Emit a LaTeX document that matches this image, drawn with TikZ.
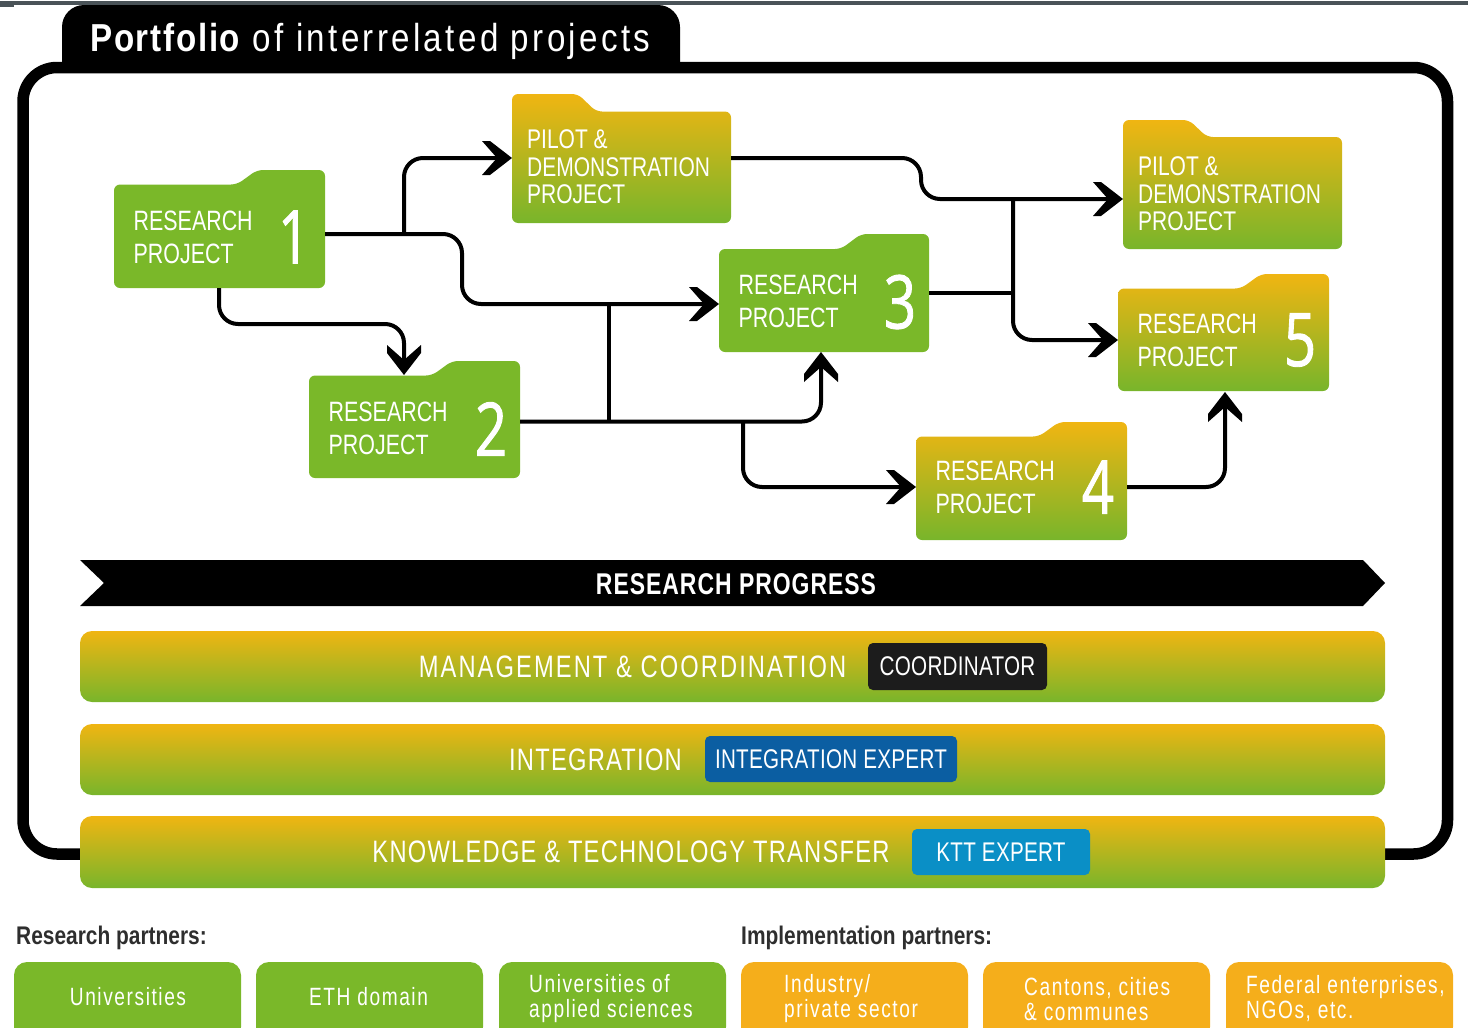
\documentclass[tikz,border=0pt]{standalone}
\usepackage{fontspec}
\setmainfont{Liberation Sans}
\usetikzlibrary{arrows.meta}
\newfontfamily\cfont[FakeStretch=0.765]{Liberation Sans}
\newfontfamily\cpilot[FakeStretch=0.778]{Liberation Sans}
\newfontfamily\cnum[FakeStretch=0.76,FakeBold=1.2]{Open Sans}
\newfontfamily\cchip[FakeStretch=0.765,LetterSpace=1]{Liberation Sans}
\newfontfamily\chead[FakeStretch=0.82]{Liberation Sans}
\newfontfamily\cprog[FakeStretch=0.765,LetterSpace=3.3]{Liberation Sans}
\newfontfamily\cbara[FakeStretch=0.765,LetterSpace=6.7]{Liberation Sans}
\newfontfamily\cbarb[FakeStretch=0.765,LetterSpace=4]{Liberation Sans}
\newfontfamily\csmall[FakeStretch=0.765,LetterSpace=6.3]{Liberation Sans}
\newfontfamily\ctreg[FakeStretch=0.85,LetterSpace=8.5]{Liberation Sans}
\newfontfamily\ctbold[FakeStretch=0.85,LetterSpace=4.4]{Liberation Sans}
\definecolor{gy}{HTML}{F0B512}
\definecolor{gg}{HTML}{78B52B}
\definecolor{pgreen}{HTML}{7AB829}
\definecolor{porange}{HTML}{F5AE1B}
\definecolor{chipk}{HTML}{1C1C1C}
\definecolor{chipb}{HTML}{0B5EA2}
\definecolor{chipc}{HTML}{0A8FC6}
\definecolor{rulec}{HTML}{4A5358}
\pgfdeclarearrow{
  name=Chevron,
  setup code={
    \pgfarrowssettipend{0pt}
    \pgfarrowssetlineend{-14pt}
    \pgfarrowssetvisualbackend{-30pt}
    \pgfarrowssetbackend{-30pt}
    \pgfarrowshullpoint{0pt}{0pt}
    \pgfarrowshullpoint{-30pt}{17pt}
    \pgfarrowshullpoint{-30pt}{-17pt}
  },
  drawing code={
    \pgfpathmoveto{\pgfpoint{0pt}{0pt}}
    \pgfpathlineto{\pgfpoint{-22pt}{17pt}}
    \pgfpathlineto{\pgfpoint{-30pt}{17pt}}
    \pgfpathlineto{\pgfpoint{-15pt}{0pt}}
    \pgfpathlineto{\pgfpoint{-30pt}{-17pt}}
    \pgfpathlineto{\pgfpoint{-22pt}{-17pt}}
    \pgfpathclose
    \pgfusepathqfill
  }
}
\tikzset{
  solidfold/.style={fill=pgreen},
  gradfold/.style={top color=gy,bottom color=gg},
  body/.style={inner sep=0pt,outer sep=0pt},
  lbl/.style={text=white,inner sep=0pt,align=left,anchor=west,font=\cfont\fontsize{28}{33}\selectfont},
  pilotlbl/.style={lbl,font=\cpilot\fontsize{27}{27.5}\selectfont},
  numlbl/.style={text=white,inner sep=0pt,font=\cnum\fontsize{74}{74}\selectfont},
  conn/.style={draw=black,line width=4pt,rounded corners=19pt,line cap=butt},
  arr/.style={conn,-{Chevron}},
  barstyle/.style={top color=gy,bottom color=gg,rounded corners=12pt},
  bartext/.style={text=white,inner sep=0pt,font=\cbarb\fontsize{31}{31}\selectfont},
  chip/.style={text=white,inner sep=0pt,rounded corners=5pt,font=\cchip\fontsize{27}{27}\selectfont},
  partner/.style={text=white,inner sep=0pt,align=left,font=\csmall\fontsize{25}{25}\selectfont},
  head/.style={text=black!82,inner sep=0pt,anchor=base west,font=\chead\bfseries\fontsize{25.5}{26}\selectfont},
}
% name, x1, x2, y tab top, y body top, y bottom, fill style
\newcommand\foldR[7]{%
  \path[#7,rounded corners=6pt] (#2,#6) -- (#2,#5) -- ({#3-88},#5) -- ({#3-68},#4) -- (#3,#4) -- (#3,#6) -- cycle;
  \node[body,minimum width={(#3-#2)*1pt},minimum height={(#6-#5)*1pt}] (#1) at ({(#2+#3)/2},{(#5+#6)/2}) {};
}
\newcommand\foldL[7]{%
  \path[#7,rounded corners=6pt] (#2,#6) -- (#2,#4) -- ({#2+66},#4) -- ({#2+84},#5) -- (#3,#5) -- (#3,#6) -- cycle;
  \node[body,minimum width={(#3-#2)*1pt},minimum height={(#6-#5)*1pt}] (#1) at ({(#2+#3)/2},{(#5+#6)/2}) {};
}
\newcommand\partnerbox[4]{%
  \path[fill=#4,rounded corners=13pt] (#2,1040) -- (#2,962) -- (#3,962) -- (#3,1040) -- cycle;
  \node[body,minimum width={(#3-#2)*1pt},minimum height=66pt] (#1) at ({(#2+#3)/2},995) {};
}
\begin{document}
\begin{tikzpicture}[x=1pt,y=-1pt]
\useasboundingbox (0,0) rectangle (1468,1028);
\clip (0,0) rectangle (1468,1028);
% top rule
\fill[rulec] (0,1) rectangle (1468,5);
\fill[rulec] (0,5) rectangle (14,6.5);
% frame and tab
\draw[line width=11.5pt,rounded corners=34pt] (90,854) -- (23,854) -- (23,67.5) -- (1447.5,67.5) -- (1447.5,854) -- (1375,854);
\fill (62,70) [rounded corners=22pt] -- (62,5) -- (680,5) [sharp corners] -- (680,70) -- cycle;
\node[text=white,inner sep=0pt,anchor=base west] (title) at (90,51) {\ctbold\bfseries\fontsize{39}{39}\selectfont Portfolio\ctreg\mdseries\fontsize{39}{39}\selectfont{} of interrelated projects};
% folders
\foldR{r1}{114}{325}{170}{184.5}{288}{solidfold}
\foldR{r2}{309}{520}{361}{375.5}{478}{solidfold}
\foldR{r3}{719}{929}{234}{249}{352}{solidfold}
\foldR{r4}{916}{1127}{422}{436.5}{540}{gradfold}
\foldR{r5}{1118}{1329}{274}{288.5}{391}{gradfold}
\foldL{p1}{512}{731}{94}{111.5}{223}{gradfold}
\foldL{p2}{1123}{1342}{120}{137}{249}{gradfold}
% folder labels
\node[lbl] (r1t) at ([xshift=19.5pt,yshift=-1.5pt]r1.west) {RESEARCH\\PROJECT};
\node[numlbl] (r1n) at (294,237) {1};
\node[lbl] (r2t) at ([xshift=19.5pt,yshift=-1.5pt]r2.west) {RESEARCH\\PROJECT};
\node[numlbl] (r2n) at (491,429) {2};
\node[lbl] (r3t) at ([xshift=19.5pt,yshift=-0.5pt]r3.west) {RESEARCH\\PROJECT};
\node[numlbl] (r3n) at (900,302) {3};
\node[lbl] (r4t) at ([xshift=19.5pt,yshift=0.5pt]r4.west) {RESEARCH\\PROJECT};
\node[numlbl] (r4n) at (1098,487) {4};
\node[lbl] (r5t) at ([xshift=19.5pt,yshift=-0.5pt]r5.west) {RESEARCH\\PROJECT};
\node[numlbl] (r5n) at (1300,340) {5};
\node[pilotlbl] (p1t) at ([xshift=15pt,yshift=0.5pt]p1.west) {PILOT \&\\DEMONSTRATION\\PROJECT};
\node[pilotlbl] (p2t) at ([xshift=15pt,yshift=-1pt]p2.west) {PILOT \&\\DEMONSTRATION\\PROJECT};
% junctions
\coordinate (ja) at (404,234);
\coordinate (jb) at (609,421.5);
\coordinate (jc) at (743,421.5);
\coordinate (jd) at (1013,199);
\coordinate (je) at (1013,293);
% connectors
\draw[arr] (ja) -- (404,158) -- (p1.west |- 0,158);
\draw[arr] (r1.east |- ja) -- (462,234) -- (462,304) -- (r3.west |- 0,304);
\draw[arr] (219,288) -- (219,324) -- (404,324) -- (404,375);
\draw[arr] (r2.east |- jb) -- (821,421.5) -- (821,352);
\draw[conn] (jb) -- (609,304);
\draw[arr] (jc) -- (743,487) -- (r4.west |- 0,487);
\draw[arr] (r4.east |- 0,487) -- (1225,487) -- (1225,392);
\draw[arr] (p1.east |- 0,158) -- (921,158) -- (921,199) -- (p2.west |- jd);
\draw[conn] (r3.east |- je) -- (je);
\draw[arr] (jd) -- (1013,340) -- (r5.west |- 0,340);
% progress banner
\fill (80,560) -- (1363,560) -- (1385,583) -- (1363,606) -- (80,606) -- (104,583) -- cycle;
\node[text=white,inner sep=0pt,font=\cprog\bfseries\fontsize{30}{30}\selectfont] (prog) at (736,584) {RESEARCH PROGRESS};
% bars
\shade[barstyle] (80,631) rectangle (1385,702);
\shade[barstyle] (80,724) rectangle (1385,795);
\shade[barstyle] (80,816) rectangle (1385,888);
\node[bartext,font=\cbara\fontsize{31}{31}\selectfont] (b1) at (632.5,667) {MANAGEMENT \& COORDINATION};
\node[bartext] (b2) at (595.5,760) {INTEGRATION};
\node[bartext] (b3) at (631,852) {KNOWLEDGE \& TECHNOLOGY TRANSFER};
\node[chip,fill=chipk,minimum width=179pt,minimum height=47pt] (c1) at (957.5,666.5) {COORDINATOR};
\node[chip,fill=chipb,minimum width=252pt,minimum height=46pt] (c2) at (831,759) {INTEGRATION EXPERT};
\node[chip,fill=chipc,minimum width=178pt,minimum height=46pt] (c3) at (1001,852) {KTT EXPERT};
% partners
\node[head] (h1) at (16,944) {Research partners:};
\node[head] (h2) at (741,944) {Implementation partners:};
\partnerbox{u1}{14}{241}{pgreen}
\partnerbox{u2}{256}{483}{pgreen}
\partnerbox{u3}{499}{726}{pgreen}
\partnerbox{u4}{741}{968}{porange}
\partnerbox{u5}{983}{1210}{porange}
\partnerbox{u6}{1226}{1453}{porange}
\node[partner] (u1t) at (128,997) {Universities};
\node[partner] (u2t) at (368.5,997) {ETH domain};
\node[partner,anchor=west] (u3t) at (529,999) {Universities of\\applied sciences};
\node[partner,anchor=west] (u4t) at (784,999) {Industry/\\private sector};
\node[partner,anchor=west] (u5t) at (1024,999) {Cantons, cities\\\& communes};
\node[partner,anchor=west] (u6t) at (1246,999) {Federal enterprises,\\NGOs, etc.};
\end{tikzpicture}
\end{document}
